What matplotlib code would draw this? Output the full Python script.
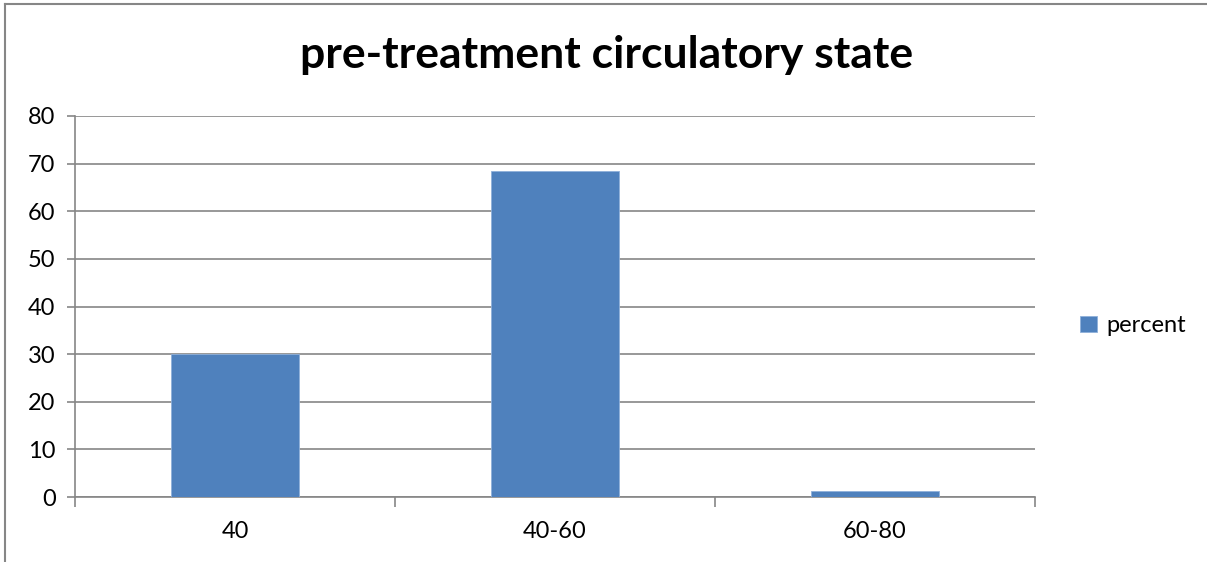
import matplotlib
matplotlib.use('Agg')
import matplotlib.pyplot as plt
from matplotlib.lines import Line2D

plt.rcParams['font.family'] = ['Lato', 'DejaVu Sans']

categories = ['40', '40-60', '60-80']
percent = [30.0, 68.5, 1.3]
yticks = [0, 10, 20, 30, 40, 50, 60, 70, 80]

W, H = 1207, 562
fig = plt.figure(figsize=(W / 100, H / 100), dpi=100)
ax = fig.add_axes([75 / W, (H - 497) / H, (1035 - 75) / W, (497 - 116) / H])

grid_c = '#868686'
x = range(len(categories))
ax.bar(x, percent, width=0.4, color='#4F81BD', edgecolor='#8FB0DA', linewidth=0.6,
       zorder=3, label='percent')

ax.set_xlim(-0.5, len(categories) - 0.5)
ax.set_ylim(0, 80)
ax.set_yticks(yticks)
ax.set_yticklabels([str(v) for v in yticks], fontsize=17)
ax.yaxis.grid(True, color=grid_c, linewidth=1.2, zorder=0)

# category labels centred, tick marks on the boundaries
ax.set_xticks(list(x))
ax.set_xticklabels(categories, fontsize=17)
ax.tick_params(axis='x', length=0, pad=17)
ax.set_xticks([i - 0.5 for i in range(len(categories) + 1)], minor=True)
ax.tick_params(axis='x', which='minor', length=7, width=1.2, color=grid_c, direction='out')
ax.tick_params(axis='y', length=6, width=1.2, color=grid_c, pad=8)

for s in ['top', 'right']:
    ax.spines[s].set_visible(False)
for s in ['left', 'bottom']:
    ax.spines[s].set_color(grid_c)
    ax.spines[s].set_linewidth(1.2)

fig.text(607 / W, 1 - 55 / H, 'pre-treatment circulatory state', ha='center', va='center',
         fontsize=32, fontweight='bold')

ax.legend(loc='center left', bbox_to_anchor=(1.025, 0.45), frameon=False, fontsize=17,
          handlelength=0.7, handleheight=0.7, handletextpad=0.4)

# chart frame (left and top edges)
fig.add_artist(Line2D([5 / W, 5 / W], [0, 1 - 4 / H], color=grid_c, linewidth=1.5))
fig.add_artist(Line2D([5 / W, 1], [1 - 4 / H, 1 - 4 / H], color=grid_c, linewidth=1.5))

fig.savefig('out.png', dpi=100)
